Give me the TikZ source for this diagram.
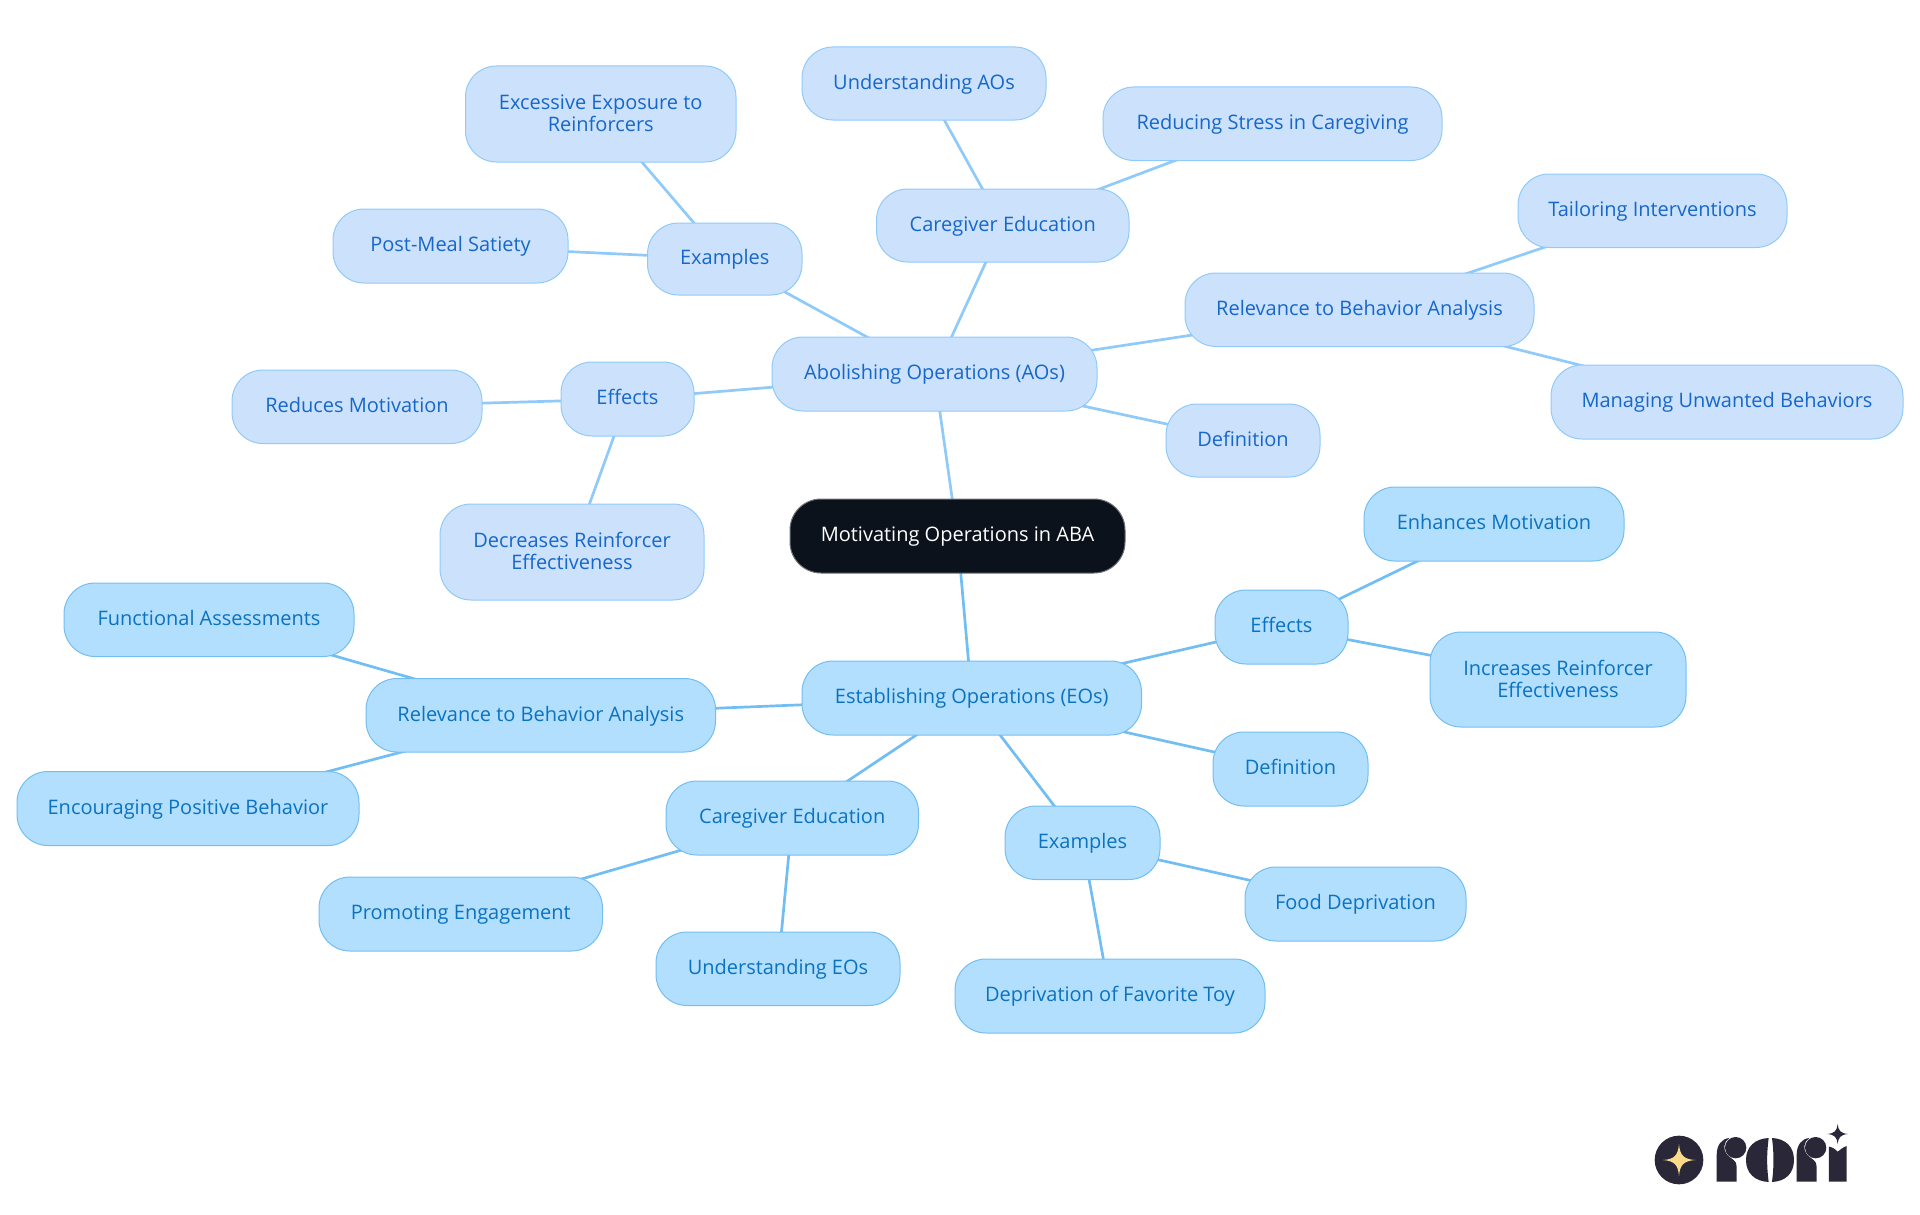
\documentclass[tikz,border=0pt]{standalone}
\usepackage{fontspec}
\setmainfont{Open Sans}
\usetikzlibrary{backgrounds}
\definecolor{aofill}{HTML}{CCE2FC}
\definecolor{aoline}{HTML}{90CAF9}
\definecolor{aotext}{HTML}{1667C9}
\definecolor{eofill}{HTML}{B3DFFE}
\definecolor{eoline}{HTML}{72BEF2}
\definecolor{eotext}{HTML}{0B72C0}
\definecolor{rootfill}{HTML}{0B121B}
\definecolor{logodark}{HTML}{2A2838}
\definecolor{logogold}{HTML}{FBD98A}
\newcommand{\boxstrut}{\rule[-5.4pt]{0pt}{22.4pt}}
\newcommand{\firstline}{\rule{0pt}{18.8pt}}
\tikzset{
  boxbase/.style={rectangle,rounded corners=31pt,inner sep=0pt,outer sep=0pt,align=center,
    line width=1pt,font=\fontsize{20pt}{22pt}\selectfont,
    execute at begin node=\boxstrut,execute at end node=\boxstrut},
  aobox/.style={boxbase,fill=aofill,draw=aoline,text=aotext},
  eobox/.style={boxbase,fill=eofill,draw=eoline,text=eotext},
  rootbox/.style={boxbase,fill=rootfill,draw=rootfill!60!white,text=white},
  aoedge/.style={draw=aoline,line width=2.7pt},
  eoedge/.style={draw=eoline,line width=2.7pt},
}
\newcommand{\mapnode}[7]{\node[#6,minimum width={(#3-#2)*1pt},minimum height={(#5-#4)*1pt}] (#1) at ({(#2+#3)/2},{(#4+#5)/2}) {#7};}
\begin{document}
\begin{tikzpicture}[x=1pt,y=-1pt]
\useasboundingbox (0,0) rectangle (1920,1215);
\mapnode{root}{790}{1125}{499}{573}{rootbox}{Motivating Operations in ABA}
% AO branch
\mapnode{ao}{772}{1097}{337}{411}{aobox}{Abolishing Operations (AOs)}
\mapnode{aoUnder}{802}{1046}{47}{120}{aobox}{Understanding AOs}
\mapnode{aoStress}{1103}{1442}{87}{160.5}{aobox}{Reducing Stress in Caregiving}
\mapnode{aoCare}{876.5}{1129}{189}{262}{aobox}{Caregiver Education}
\mapnode{aoExcess}{465.5}{736}{66}{162}{aobox}{\firstline Excessive Exposure to\\Reinforcers}
\mapnode{aoExam}{647.5}{802}{223}{295}{aobox}{Examples}
\mapnode{aoMeal}{333}{568}{209}{283}{aobox}{Post-Meal Satiety}
\mapnode{aoTailor}{1518}{1787}{174}{247.5}{aobox}{Tailoring Interventions}
\mapnode{aoRel}{1185}{1534}{273}{346.5}{aobox}{Relevance to Behavior Analysis}
\mapnode{aoManage}{1551}{1903}{365}{439}{aobox}{Managing Unwanted Behaviors}
\mapnode{aoDef}{1166}{1320}{404}{477}{aobox}{Definition}
\mapnode{aoEff}{561}{694}{362}{436}{aobox}{Effects}
\mapnode{aoRed}{232}{482}{370}{443.5}{aobox}{Reduces Motivation}
\mapnode{aoDec}{440}{704}{504}{600}{aobox}{\firstline Decreases Reinforcer\\Effectiveness}
% EO branch
\mapnode{eo}{802}{1141.5}{661}{735}{eobox}{Establishing Operations (EOs)}
\mapnode{eoEnh}{1364}{1624}{487}{561}{eobox}{Enhances Motivation}
\mapnode{eoEff}{1215}{1348}{590}{664}{eobox}{Effects}
\mapnode{eoInc}{1430}{1686}{632}{727}{eobox}{\firstline Increases Reinforcer\\Effectiveness}
\mapnode{eoFun}{64}{354}{583}{656.5}{eobox}{Functional Assessments}
\mapnode{eoRel}{366}{715.5}{678.5}{752}{eobox}{Relevance to Behavior Analysis}
\mapnode{eoDef}{1213}{1368}{732}{806}{eobox}{Definition}
\mapnode{eoEnc}{17}{359}{771.5}{845.5}{eobox}{Encouraging Positive Behavior}
\mapnode{eoCare}{666}{918.5}{781}{855}{eobox}{Caregiver Education}
\mapnode{eoExam}{1005}{1160}{806}{879.5}{eobox}{Examples}
\mapnode{eoFood}{1245}{1466}{867}{941}{eobox}{Food Deprivation}
\mapnode{eoProm}{319}{602.5}{877}{951}{eobox}{Promoting Engagement}
\mapnode{eoUnder}{656}{900}{932}{1005.5}{eobox}{Understanding EOs}
\mapnode{eoDep}{955}{1265}{959}{1033}{eobox}{Deprivation of Favorite Toy}
\begin{scope}[on background layer]
\foreach \a/\b in {root/ao,ao/aoCare,aoCare/aoUnder,aoCare/aoStress,ao/aoExam,aoExam/aoExcess,aoExam/aoMeal,ao/aoRel,aoRel/aoTailor,aoRel/aoManage,ao/aoDef,ao/aoEff,aoEff/aoRed,aoEff/aoDec}
  \draw[aoedge] (\a.center) -- (\b.center);
\foreach \a/\b in {root/eo,eo/eoEff,eoEff/eoEnh,eoEff/eoInc,eo/eoRel,eoRel/eoFun,eoRel/eoEnc,eo/eoDef,eo/eoCare,eoCare/eoProm,eoCare/eoUnder,eo/eoExam,eoExam/eoFood,eoExam/eoDep}
  \draw[eoedge] (\a.center) -- (\b.center);
\end{scope}
% logo
\begin{scope}[shift={(1620,1100)},x=0.3333pt,y=-0.3333pt]
\fill[logodark] (177,180) circle[x radius=73,y radius=73];
\fill[logogold] (177,132) .. controls (180,165) and (190,178) .. (226,180) .. controls (190,183) and (180,195) .. (177,228) .. controls (174,195) and (164,183) .. (129,180) .. controls (164,178) and (174,165) .. (177,132) -- cycle;
% r
\fill[logodark] (290,245) -- (290,165) .. controls (290,135) and (305,116) .. (328,114) .. controls (310,125) and (308,150) .. (322,165) .. controls (335,178) and (350,180) .. (350,200) -- (350,245) -- cycle;
\fill[logodark] (347,143) circle[x radius=32,y radius=32];
% o
\fill[logodark] (446,114) .. controls (405,116) and (378,140) .. (378,180) .. controls (378,220) and (405,244) .. (446,246) .. controls (440,200) and (440,160) .. (446,114) -- cycle;
\fill[logodark] (456,114) .. controls (497,116) and (522,140) .. (522,180) .. controls (522,220) and (497,244) .. (456,246) .. controls (462,200) and (462,160) .. (456,114) -- cycle;
% r
\fill[logodark] (530,245) -- (530,165) .. controls (530,135) and (545,116) .. (568,114) .. controls (550,125) and (548,150) .. (562,165) .. controls (575,178) and (590,180) .. (590,200) -- (590,245) -- cycle;
\fill[logodark] (587,143) circle[x radius=32,y radius=32];
% i
\fill[logodark] (627,245) -- (627,140) .. controls (640,142) and (648,150) .. (653,155) .. controls (660,150) and (668,142) .. (680,138) -- (680,245) -- cycle;
% small star
\fill[logodark] (653,72) .. controls (655,92) and (662,100) .. (684,102) .. controls (662,104) and (655,112) .. (653,132) .. controls (651,112) and (644,104) .. (622,102) .. controls (644,100) and (651,92) .. (653,72) -- cycle;
\end{scope}
\end{tikzpicture}
\end{document}
